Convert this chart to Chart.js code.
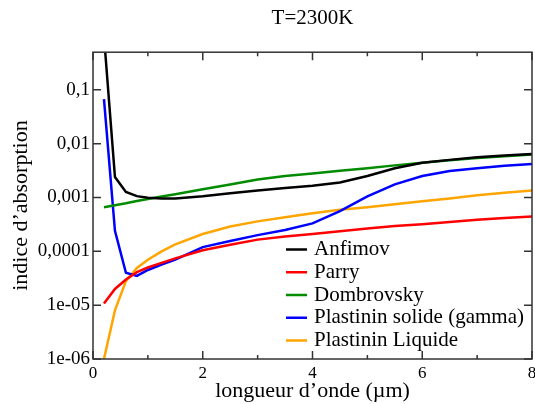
<!DOCTYPE html>
<html>
<head>
<meta charset="utf-8">
<script src="https://cdn.jsdelivr.net/npm/chart.js@4.4.1/dist/chart.umd.min.js"></script>
<style>
  html, body { margin: 0; padding: 0; background: #fff; }
</style>
</head>
<body>
<canvas id="graphe" width="535" height="404"></canvas>
<script>
// longueurs d'onde (µm) communes à toutes les courbes
const longueurs = [0.2, 0.4, 0.6, 0.8, 1.0, 1.25, 1.5, 2, 2.5, 3, 3.5, 4, 4.5, 5, 5.5, 6, 6.5, 7, 7.5, 8];

// indices d'absorption
const anfimov = [1.0, 0.0024, 0.00127, 0.00106, 0.00099, 0.00096, 0.00096, 0.00105, 0.0012, 0.00135,
                 0.0015, 0.00166, 0.0019, 0.0025, 0.0035, 0.0044, 0.005, 0.0056, 0.006, 0.0064];
const parry = [1.07e-5, 2.0e-5, 3.0e-5, 4.1e-5, 5.0e-5, 6.1e-5, 7.4e-5, 1.05e-4, 1.33e-4, 1.65e-4,
               1.88e-4, 2.1e-4, 2.35e-4, 2.65e-4, 2.95e-4, 3.2e-4, 3.5e-4, 3.85e-4, 4.15e-4, 4.45e-4];
const dombrovsky = [6.6e-4, 7.2e-4, 7.8e-4, 8.6e-4, 9.4e-4, 1.04e-3, 1.15e-3, 1.42e-3, 1.75e-3, 2.15e-3,
                    2.5e-3, 2.8e-3, 3.15e-3, 3.5e-3, 3.95e-3, 4.4e-3, 4.9e-3, 5.4e-3, 5.85e-3, 6.3e-3];
const plastininSolide = [0.067, 2.4e-4, 4.0e-5, 3.5e-5, 4.5e-5, 5.7e-5, 7.0e-5, 1.2e-4, 1.55e-4, 2.0e-4,
                         2.5e-4, 3.3e-4, 5.6e-4, 1.05e-3, 1.75e-3, 2.5e-3, 3.1e-3, 3.5e-3, 3.9e-3, 4.2e-3];
const plastininLiquide = [1.0e-6, 8.0e-6, 2.8e-5, 4.9e-5, 7.0e-5, 1.0e-4, 1.35e-4, 2.1e-4, 2.9e-4, 3.6e-4,
                          4.3e-4, 5.1e-4, 5.9e-4, 6.6e-4, 7.5e-4, 8.5e-4, 9.6e-4, 1.1e-3, 1.22e-3, 1.35e-3];

// graduations
const ticksX = [0, 2, 4, 6, 8];
const ticksXMineurs = [1, 3, 5, 7];
const ticksY = [1e-6, 1e-5, 1e-4, 1e-3, 1e-2, 1e-1];
const etiquettesY = ['1e-06', '1e-05', '0,0001', '0,001', '0,01', '0,1'];

const police = '"Liberation Serif", "DejaVu Serif", serif';
Chart.defaults.font.family = police;
Chart.defaults.color = '#000';

function points(ys) {
  return longueurs.map((x, i) => ({ x: x, y: ys[i] }));
}

function serie(label, ys, couleur) {
  return {
    label: label,
    data: points(ys),
    borderColor: couleur,
    backgroundColor: couleur,
    borderWidth: 2.5,
    pointRadius: 0,
    tension: 0,
    fill: false
  };
}

// cadre et graduations vers l'intérieur
const cadre = {
  id: 'cadre',
  afterDatasetsDraw(chart) {
    const { ctx, chartArea: a, scales: { x, y } } = chart;
    ctx.save();
    ctx.strokeStyle = '#333';
    ctx.lineWidth = 1.5;
    ctx.strokeRect(a.left, a.top, a.right - a.left, a.bottom - a.top);
    ctx.beginPath();
    ticksX.forEach(v => {
      const px = x.getPixelForValue(v);
      ctx.moveTo(px, a.bottom); ctx.lineTo(px, a.bottom - 8);
      ctx.moveTo(px, a.top); ctx.lineTo(px, a.top + 8);
    });
    ticksXMineurs.forEach(v => {
      const px = x.getPixelForValue(v);
      ctx.moveTo(px, a.bottom); ctx.lineTo(px, a.bottom - 4);
      ctx.moveTo(px, a.top); ctx.lineTo(px, a.top + 4);
    });
    ticksY.forEach(v => {
      const py = y.getPixelForValue(v);
      ctx.moveTo(a.left, py); ctx.lineTo(a.left + 8, py);
      ctx.moveTo(a.right, py); ctx.lineTo(a.right - 8, py);
    });
    ctx.stroke();
    ctx.restore();
  }
};

// légende à l'intérieur du graphe, en bas à droite
const legende = {
  id: 'legende',
  afterDatasetsDraw(chart) {
    const { ctx, chartArea: a } = chart;
    const x0 = a.left + 193;
    const haut = a.bottom - 109.5;
    ctx.save();
    ctx.font = '21px ' + police;
    ctx.textBaseline = 'middle';
    ctx.textAlign = 'left';
    chart.data.datasets.forEach((ds, i) => {
      const yy = haut + i * 22.75;
      ctx.strokeStyle = ds.borderColor;
      ctx.lineWidth = 2.5;
      ctx.beginPath();
      ctx.moveTo(x0, yy);
      ctx.lineTo(x0 + 21, yy);
      ctx.stroke();
      ctx.fillStyle = '#000';
      ctx.fillText(ds.label, x0 + 28, yy);
    });
    ctx.restore();
  }
};

const ctx = document.getElementById('graphe').getContext('2d');

new Chart(ctx, {
  type: 'line',
  data: {
    datasets: [
      serie('Anfimov', anfimov, '#000000'),
      serie('Parry', parry, '#ff0000'),
      serie('Dombrovsky', dombrovsky, '#008b00'),
      serie('Plastinin solide (gamma)', plastininSolide, '#0000ff'),
      serie('Plastinin Liquide', plastininLiquide, '#ffa500')
    ]
  },
  options: {
    responsive: false,
    animation: false,
    layout: { padding: { left: 0, right: 3, top: 0, bottom: 0 }, autoPadding: false },
    plugins: {
      legend: { display: false },
      tooltip: { enabled: false },
      title: {
        display: true,
        text: 'T=2300K',
        fullSize: false,
        color: '#000',
        font: { size: 21, weight: 'normal' },
        padding: { top: 6, bottom: 21 }
      }
    },
    scales: {
      x: {
        type: 'linear',
        min: 0,
        max: 8,
        afterBuildTicks: (s) => { s.ticks = ticksX.map(v => ({ value: v })); },
        afterFit: (s) => {
          s.height = 45;
          s.paddingLeft = 0;
          s.paddingRight = 0;
        },
        grid: { display: false, drawTicks: false },
        border: { display: false },
        ticks: {
          autoSkip: false,
          maxRotation: 0,
          padding: 4,
          color: '#000',
          font: { size: 17 },
          callback: (v) => String(v)
        },
        title: {
          display: true,
          text: 'longueur d’onde (µm)',
          color: '#000',
          font: { size: 22 },
          padding: { top: 0, bottom: 0 }
        }
      },
      y: {
        type: 'logarithmic',
        min: 1e-6,
        max: 0.5,
        afterBuildTicks: (s) => { s.ticks = ticksY.map(v => ({ value: v })); },
        afterFit: (s) => {
          s.width = 93;
          s.paddingTop = 0;
          s.paddingBottom = 0;
        },
        grid: { display: false, drawTicks: false },
        border: { display: false },
        ticks: {
          autoSkip: false,
          padding: 3,
          color: '#000',
          font: { size: 19 },
          callback: (v) => {
            const i = ticksY.findIndex(t => Math.abs(Math.log10(t) - Math.log10(v)) < 1e-6);
            return i >= 0 ? etiquettesY[i] : '';
          }
        },
        title: {
          display: true,
          text: 'indice d’absorption',
          color: '#000',
          font: { size: 22 },
          padding: { top: 8, bottom: 0 }
        }
      }
    }
  },
  plugins: [cadre, legende]
});
</script>
</body>
</html>
